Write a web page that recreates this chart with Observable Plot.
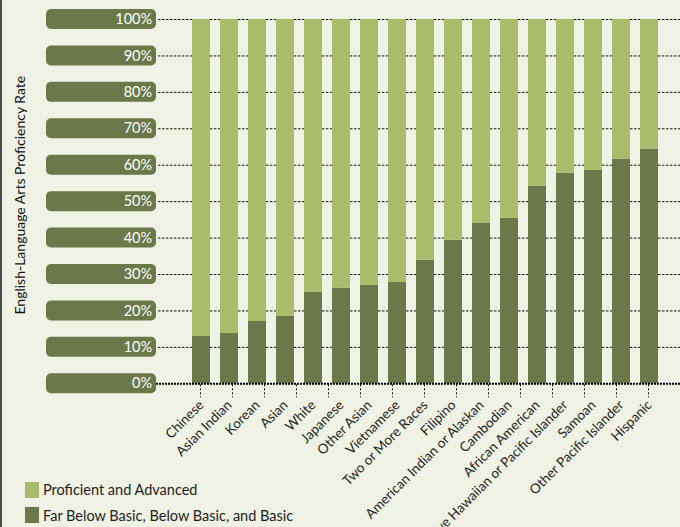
<!DOCTYPE html>
<html><head><meta charset="utf-8">
<script src="https://cdn.jsdelivr.net/npm/d3@7"></script>
<script src="https://cdn.jsdelivr.net/npm/@observablehq/plot@0.6"></script>
<style>
html,body{margin:0;padding:0;background:#eff2e4;}
#wrap{position:relative;width:680px;height:527px;overflow:hidden;background:#eff2e4;}
#edge{position:absolute;left:0;top:0;width:2px;height:527px;background:#4d4d4d;}
.legend{position:absolute;left:25px;top:477px;font-family:Lato, sans-serif;font-size:14.5px;color:#1e1e1e;}
.legend .item{display:flex;align-items:center;height:25.5px;}
.legend .sw{width:14px;height:16px;margin-right:4px;}
</style></head><body><div id="wrap"><div id="edge"></div></div>
<script>
const categories = ["Chinese","Asian Indian","Korean","Asian","White","Japanese","Other Asian","Vietnamese","Two or More Races","Filipino","American Indian or Alaskan","Cambodian","African American","Native Hawaiian or Pacific Islander","Samoan","Other Pacific Islander","Hispanic"];
const belowBasic = [13.0, 13.8, 17.1, 18.5, 25.1, 26.2, 27.0, 27.8, 33.9, 39.4, 44.0, 45.4, 54.2, 57.8, 58.6, 61.6, 64.4];
const proficient = [87.0, 86.2, 82.9, 81.5, 74.9, 73.8, 73.0, 72.2, 66.1, 60.6, 56.0, 54.6, 45.8, 42.2, 41.4, 38.4, 35.6];
const levels = ["Far Below Basic, Below Basic, and Basic", "Proficient and Advanced"];
const levelColors = ["#6b7849", "#a8bc6c"];
const yTicks = [0,10,20,30,40,50,60,70,80,90,100];
const yTickLabels = ["0%","10%","20%","30%","40%","50%","60%","70%","80%","90%","100%"];
const yTitle = "English-Language Arts Proficiency Rate";
const xTickCount = 15;

const rows = categories.flatMap((c, i) => [
  {category: c, level: levels[0], value: belowBasic[i]},
  {category: c, level: levels[1], value: proficient[i]}
]);

function pills(index, scales, values, dimensions) {
  const g = d3.create("svg:g");
  const x0 = dimensions.marginLeft - 132.6;
  for (const t of yTicks) {
    g.append("rect")
      .attr("x", x0).attr("y", scales.y(t) - 10)
      .attr("width", 110).attr("height", 20)
      .attr("rx", 5).attr("fill", levelColors[0]);
  }
  return g.node();
}

function xTicks(index, scales, values, dimensions) {
  const g = d3.create("svg:g");
  const bw = scales.x.bandwidth();
  const a = scales.x(categories[0]) + bw / 2;
  const b = scales.x(categories[categories.length - 1]) + bw / 2;
  const y0 = dimensions.height - dimensions.marginBottom;
  for (let i = 0; i < xTickCount; i++) {
    const x = Math.round(a + (b - a) * i / (xTickCount - 1)) - 0.5;
    g.append("line")
      .attr("x1", x).attr("x2", x).attr("y1", y0 + 1).attr("y2", y0 + 14)
      .attr("stroke", "#111").attr("stroke-dasharray", "2,2");
  }
  return g.node();
}

function title(index, scales, values, dimensions) {
  const cy = (dimensions.marginTop + dimensions.height - dimensions.marginBottom) / 2 - 6;
  const g = d3.create("svg:g");
  g.append("text")
    .attr("transform", `translate(${dimensions.marginLeft - 154},${cy}) rotate(-90)`)
    .attr("text-anchor", "middle")
    .attr("font-size", 14)
    .attr("fill", "#111")
    .text(yTitle);
  return g.node();
}

const chart = Plot.plot({
  width: 680,
  height: 527,
  marginTop: 19,
  marginBottom: 143.7,
  marginLeft: 178.6,
  marginRight: 8.6,
  style: {background: "#eff2e4", fontFamily: "Lato, sans-serif", overflow: "visible"},
  x: {domain: categories, padding: 0.366, axis: null},
  y: {domain: [0, 100], axis: null},
  color: {domain: levels, range: levelColors},
  marks: [
    pills,
    Plot.text(yTicks, {y: d => d, text: (d, i) => yTickLabels[i], frameAnchor: "left", dx: -27, textAnchor: "end", fill: "white", fontSize: 14.5}),
    Plot.ruleY(yTicks.slice(1), {stroke: "#111", strokeDasharray: "2.5,1.5", insetLeft: -20.6, insetRight: -8.6}),
    Plot.barY(rows, {x: "category", y: "value", fill: "level", order: levels}),
    Plot.ruleY([0], {stroke: "#000", strokeWidth: 2, strokeDasharray: "2,1", insetLeft: -22.6, insetRight: -8.6}),
    xTicks,
    Plot.axisX({tickRotate: -45, tickSize: 0, tickPadding: 19, fontSize: 13.5, fill: "#1e1e1e", label: null}),
    title
  ]
});

const wrap = document.getElementById("wrap");
wrap.insertBefore(chart, wrap.firstChild);

const legend = document.createElement("div");
legend.className = "legend";
for (const i of [1, 0]) {
  const item = document.createElement("div");
  item.className = "item";
  const sw = document.createElement("span");
  sw.className = "sw";
  sw.style.background = levelColors[i];
  const lab = document.createElement("span");
  lab.textContent = levels[i];
  item.appendChild(sw);
  item.appendChild(lab);
  legend.appendChild(item);
}
wrap.appendChild(legend);
</script>
</body></html>
